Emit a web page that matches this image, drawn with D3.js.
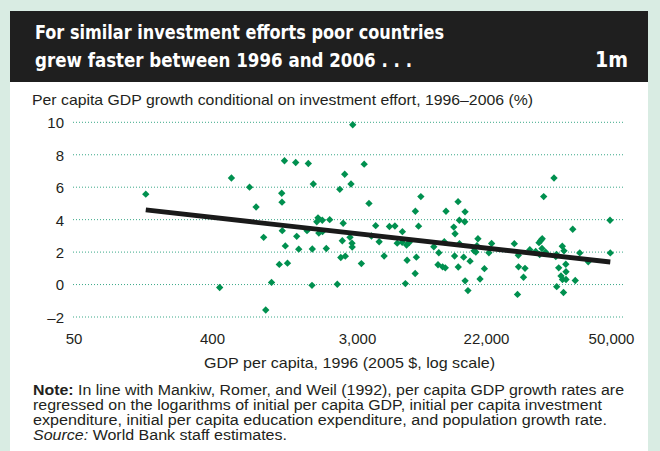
<!DOCTYPE html>
<html>
<head>
<meta charset="utf-8">
<script src="https://cdn.jsdelivr.net/npm/d3@7"></script>
<style>
  html, body { margin: 0; padding: 0; background: #d9ece3; }
  svg { display: block; }
</style>
</head>
<body>
<svg id="chart" width="660" height="451"></svg>
<script>
// GDP per capita in 1996 (2005 $) for each country
const gdp = [
  148, 524, 674, 738, 820, 445, 844, 915, 1019, 1142,
  1095, 1280, 1054, 1058, 1062, 1298, 1108, 1335, 1525, 1635,
  2827, 2529, 2362, 2760, 3352, 3609, 8043, 7389, 11860, 14290,
  1745, 1716, 1852, 2053, 1498, 1765, 1857, 2476, 1612, 1958,
  2446, 2722, 2799, 2806, 2395, 2550, 3210, 1605, 2282, 3751,
  4003, 4224, 4561, 4950, 5388, 6048, 5583, 6030, 6452, 6716,
  6502, 7504, 7367, 6334, 7763, 9827, 10614, 11553, 10484, 11254,
  11733, 13540, 14333, 13374, 13644, 14578, 15845, 15919, 14601, 15579,
  17195, 19425, 19128, 18291, 18807, 22825, 22424, 21466, 20060, 15930,
  16647, 26496, 27200, 27236, 28424, 28146, 27057, 29336, 30493, 31162,
  31532, 31823, 31781, 31305, 32563, 34796, 34956, 36313, 36721, 35465,
  37157, 37206, 36005, 36361, 37206, 39534, 40721, 43058, 49770, 49673,
  38890, 34386, 32137, 35001, 36600
];

// Conditional per capita GDP growth, 1996–2006 (%)
const growth = [
  5.57, 6.57, 6.00, 4.78, 2.91, -0.18, -1.57, 0.13, 1.24, 1.32,
  7.63, 7.52, 5.63, 5.08, 3.32, 2.97, 2.38, 2.18, 7.46, 6.20,
  9.85, 6.80, 5.87, 6.20, 7.42, 5.00, 5.42, 4.52, 4.52, 5.11,
  4.11, 3.87, 3.96, 4.00, 3.32, 3.17, 3.26, 3.78, 2.19, 2.22,
  2.70, 2.91, 2.55, 2.31, 1.67, 1.75, 1.29, -0.05, 0.02, 2.99,
  3.63, 2.64, 1.76, 3.58, 3.61, 3.26, 2.55, 2.60, 2.44, 2.59,
  1.50, 1.69, 0.68, 0.06, 3.60, 2.33, 1.96, 2.64, 1.22, 1.09,
  1.03, 1.76, 1.08, 3.54, 3.13, 3.96, 3.87, 4.48, 2.52, 1.69,
  1.44, 2.82, 2.39, 2.08, 2.00, 2.53, 1.96, 0.98, 0.34, 0.23,
  -0.37, 2.52, 1.80, 1.09, 1.00, 0.45, -0.61, 2.15, 2.04, 2.58,
  2.72, 2.82, 2.22, 1.85, 1.99, 1.73, 1.86, 2.36, 2.08, 1.03,
  1.25, 0.79, 0.53, 0.31, 0.31, 0.25, 1.95, 1.40, 1.95, 3.96,
  3.41, 6.57, 5.42, -0.13, -0.49
];

// Fitted regression line: endpoints at the lowest and highest GDP
const trendGdp = [148, 49770];
const trendGrowth = [4.60, 1.39];

// Axis ticks
const xTicks = [50, 400, 3000, 22000, 50000];
const yTicks = [-2, 0, 2, 4, 6, 8, 10];

const svg = d3.select("#chart");
const ink = "#231f20";
const green = "#00904f";
const gridColor = "#3aa888";

// White panel and dark header
svg.append("rect").attr("x", 10).attr("y", 11).attr("width", 638).attr("height", 440).attr("fill", "#ffffff");
svg.append("rect").attr("x", 10).attr("y", 11).attr("width", 638).attr("height", 71).attr("fill", "#1f1f1f");

const titleFont = "'Liberation Sans Narrow', 'DejaVu Sans Condensed', 'Liberation Sans', sans-serif";
const bodyFont = "'Liberation Sans', Arial, sans-serif";
const noteFont = "'Liberation Sans Narrow', 'Liberation Sans', sans-serif";

function fitText(sel, w) {
  return sel.attr("textLength", w).attr("lengthAdjust", "spacingAndGlyphs");
}

fitText(svg.append("text").attr("x", 35).attr("y", 39)
  .attr("font-family", titleFont).attr("font-weight", "bold").attr("font-size", 19)
  .attr("fill", "#ffffff").text("For similar investment efforts poor countries"), 409);
fitText(svg.append("text").attr("x", 35).attr("y", 67)
  .attr("font-family", titleFont).attr("font-weight", "bold").attr("font-size", 19)
  .attr("fill", "#ffffff").text("grew faster between 1996 and 2006 . . ."), 377);
fitText(svg.append("text").attr("x", 595).attr("y", 67)
  .attr("font-family", titleFont).attr("font-weight", "bold").attr("font-size", 21)
  .attr("fill", "#ffffff").text("1m"), 33);

// Subtitle (y-axis title)
fitText(svg.append("text").attr("x", 32).attr("y", 105)
  .attr("font-family", bodyFont).attr("font-size", 15).attr("fill", ink)
  .text("Per capita GDP growth conditional on investment effort, 1996\u20132006 (%)"), 501);

// Scales
const x = d3.scaleLog()
  .domain(xTicks)
  .range([73.5, 212, 357, 486, 611]);
const y = d3.scaleLinear().domain([-2, 10]).range([317, 122.3]);

const gridLeft = 73, gridRight = 623;

// Dotted horizontal gridlines
svg.append("g").selectAll("line").data(yTicks).join("line")
  .attr("x1", gridLeft).attr("x2", gridRight)
  .attr("y1", d => y(d)).attr("y2", d => y(d))
  .attr("stroke", gridColor).attr("stroke-width", 1)
  .attr("stroke-dasharray", "1,2");

// Y axis labels
const yAxis = d3.axisLeft(y).tickValues(yTicks).tickSize(0).tickPadding(0)
  .tickFormat(d => d < 0 ? "\u2013" + Math.abs(d) : String(d));
const gy = svg.append("g").attr("transform", "translate(64,0)").call(yAxis);
gy.select(".domain").remove();
gy.selectAll("text").attr("font-family", bodyFont).attr("font-size", 15).attr("fill", ink).attr("dy", "0.36em");

// X axis labels
const xAxis = d3.axisBottom(x).tickValues(xTicks).tickSize(0).tickPadding(0)
  .tickFormat(d3.format(","));
const gx = svg.append("g").attr("transform", "translate(0,332)").call(xAxis);
gx.select(".domain").remove();
gx.selectAll("text").attr("font-family", bodyFont).attr("font-size", 15).attr("fill", ink).attr("dy", "0.8em");

// X axis title
fitText(svg.append("text").attr("x", 204).attr("y", 368)
  .attr("font-family", bodyFont).attr("font-size", 15).attr("fill", ink)
  .text("GDP per capita, 1996 (2005 $, log scale)"), 291);

// Scatter points (diamonds)
const pts = gdp.map((g, i) => ({ g, v: growth[i] }));
const diamond = d3.symbol().type(d3.symbolSquare).size(27);
svg.append("g").selectAll("path").data(pts).join("path")
  .attr("d", diamond)
  .attr("transform", d => `translate(${x(d.g)},${y(d.v)}) rotate(45)`)
  .attr("fill", green);

// Regression line
svg.append("path")
  .datum(trendGdp.map((g, i) => [g, trendGrowth[i]]))
  .attr("d", d3.line().x(d => x(d[0])).y(d => y(d[1])))
  .attr("fill", "none").attr("stroke", "#1a1a1a").attr("stroke-width", 4.8)
  .attr("stroke-linecap", "butt");

// Note and source
const notes = svg.append("g").attr("font-family", noteFont).attr("font-size", 14).attr("fill", ink);
const n1 = notes.append("text").attr("x", 33).attr("y", 395);
n1.append("tspan").attr("font-weight", "bold").text("Note:");
n1.append("tspan").text(" In line with Mankiw, Romer, and Weil (1992), per capita GDP growth rates are");
fitText(n1, 591);
fitText(notes.append("text").attr("x", 33).attr("y", 410)
  .text("regressed on the logarithms of initial per capita GDP, initial per capita investment"), 569);
fitText(notes.append("text").attr("x", 33).attr("y", 425)
  .text("expenditure, initial per capita education expenditure, and population growth rate."), 574);
const n4 = notes.append("text").attr("x", 33).attr("y", 440);
n4.append("tspan").attr("font-style", "italic").text("Source:");
n4.append("tspan").text(" World Bank staff estimates.");
fitText(n4, 254);
</script>
</body>
</html>
